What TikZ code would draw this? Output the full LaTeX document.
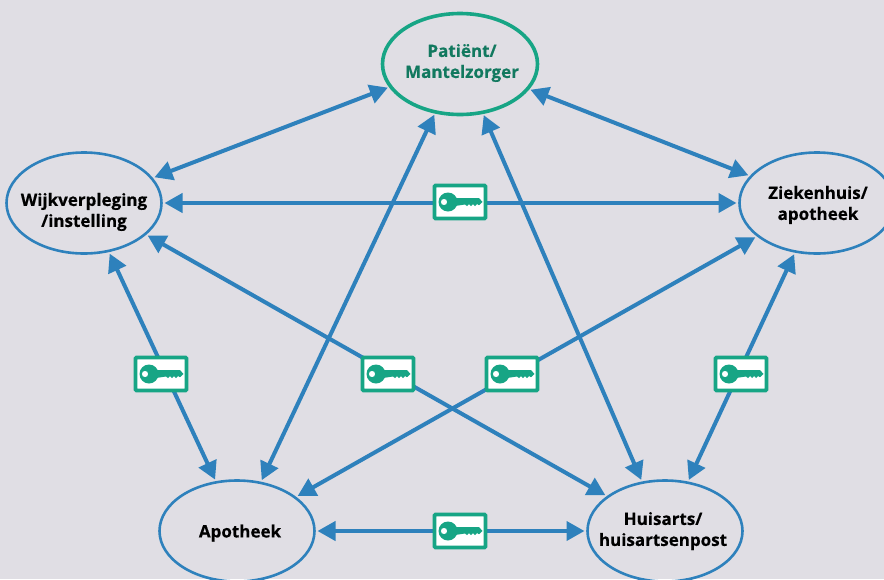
\documentclass[tikz,border=0pt]{standalone}
\usepackage{fontspec}
\setmainfont{Open Sans}[BoldFeatures={FakeBold=0.4}]
\usetikzlibrary{shapes.geometric,arrows.meta}
\definecolor{bgc}{HTML}{E0DEE4}
\definecolor{linkblue}{HTML}{2E81BC}
\definecolor{keygreen}{HTML}{17A585}
\definecolor{patgreen}{HTML}{12795F}
\tikzset{
  party/.style={ellipse,draw=linkblue,line width=2.6pt,minimum width=155pt,minimum height=101pt,inner sep=0pt,outer sep=0pt},
  partytext/.style={align=center,inner sep=0pt,font=\fontsize{17}{21}\selectfont\bfseries,text=black},
  patient/.style={party,draw=keygreen,line width=3.6pt},
  link/.style={draw=linkblue,line width=4pt,{Triangle[length=18pt,width=19pt]}-{Triangle[length=18pt,width=19pt]},shorten >=3pt,shorten <=3pt},
  keyframe/.style={rectangle,draw=keygreen,fill=white,line width=3.8pt,rounded corners=1pt,minimum width=51pt,minimum height=33pt,inner sep=0pt,outer sep=0pt},
  keybox/.pic={
    \node[keyframe] (-box) at (0,0) {};
    \fill[keygreen,even odd rule] (-12,0) circle[radius=9.5] (-16,0) circle[radius=3.2];
    \fill[keygreen] (-5,-4) -- (19,-4) -- (22.5,0) -- (19,3.2) -- (17,2) -- (15,4) -- (13,2) -- (11,4) -- (9,2) -- (7,4) -- (5,2.5) -- (-5,4) -- cycle;
  }
}
\begin{document}
\begin{tikzpicture}[x=1pt,y=-1pt]
\useasboundingbox (0,0) rectangle (884,579);
\clip (0,0) rectangle (884,579);
\fill[bgc] (0,0) rectangle (884,579);
\node[patient,label={[partytext,text=patgreen,xshift=2pt,yshift=1pt]center:Patiënt/\\Mantelzorger}] (pat) at (460,64) {};
\node[party,label={[partytext,yshift=-9pt]center:Wijkverpleging\\/instelling}] (wijk) at (84,203) {};
\node[party,label={[partytext,xshift=1pt,yshift=-2pt]center:Ziekenhuis/\\apotheek}] (zkh) at (817,203) {};
\node[party,label={[partytext,xshift=3pt,yshift=-2pt]center:Apotheek}] (apo) at (237,531) {};
\node[party,label={[partytext,xshift=-2pt,yshift=0pt]center:Huisarts/\\huisartsenpost}] (hui) at (665,531) {};
\draw[link] (pat.198) -- (wijk.20);
\draw[link] (pat.-20) -- (zkh.158);
\draw[link] (pat.243) -- (apo.64);
\draw[link] (pat.-65) -- (hui.115);
\draw[link] (wijk.0) -- (zkh.180);
\draw[link] (wijk.-63) -- (apo.113);
\draw[link] (wijk.-27) -- (hui.149);
\draw[link] (zkh.209) -- (apo.30);
\draw[link] (zkh.246) -- (hui.65);
\draw[link] (apo.0) -- (hui.180);
\pic (k1) at (460,202) {keybox};
\pic (k2) at (161,374) {keybox};
\pic (k3) at (388,374) {keybox};
\pic (k4) at (512,374) {keybox};
\pic (k5) at (741,374) {keybox};
\pic (k6) at (460,531) {keybox};
\end{tikzpicture}
\end{document}
